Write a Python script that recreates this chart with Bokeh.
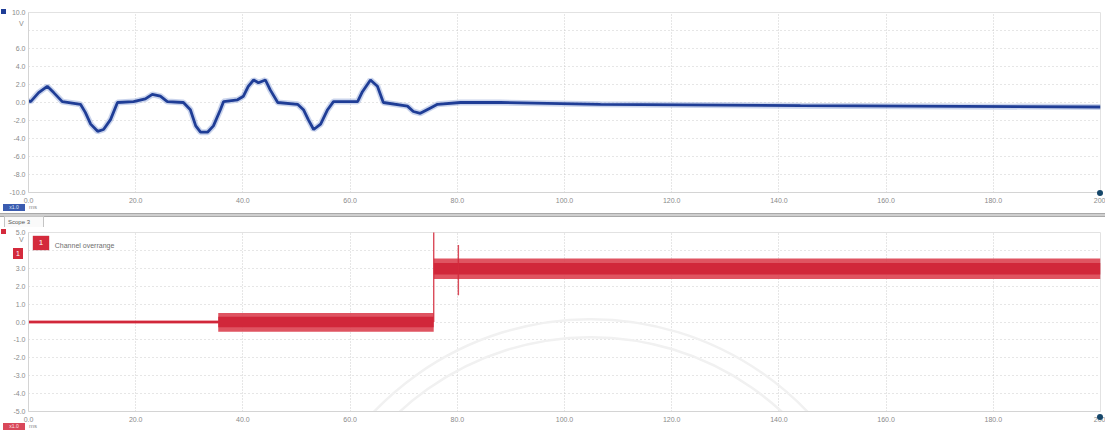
from bokeh.plotting import figure
from bokeh.layouts import column
from bokeh.models import Range1d, Label, Div, FixedTicker
from bokeh.embed import file_html
from bokeh.resources import INLINE

# ---------------- data ----------------
x_ticks = [0, 20, 40, 60, 80, 100, 120, 140, 160, 180, 200]
x_tick_labels = ["0.0", "20.0", "40.0", "60.0", "80.0", "100.0", "120.0", "140.0", "160.0", "180.0", "200"]

top_y_ticks = [-10, -8, -6, -4, -2, 0, 2, 4, 6, 8, 10]
top_y_labels = ["-10.0", "-8.0", "-6.0", "-4.0", "-2.0", "0.0", "2.0", "4.0", "6.0", "", "10.0"]

bot_y_ticks = [-5, -4, -3, -2, -1, 0, 1, 2, 3, 4, 5]
bot_y_labels = ["-5.0", "-4.0", "-3.0", "-2.0", "-1.0", "0.0", "1.0", "2.0", "3.0", "", "5.0"]

# Scope (blue) trace, time in ms, voltage in V
blue_t = [0, 0.4, 1.9, 3.5, 4.7, 6.3, 9.7, 10.6, 11.6, 12.9, 14.0, 15.3, 16.6, 19.6, 21.8,
          23.1, 24.6, 25.9, 28.9, 30.2, 31.2, 32.1, 33.4, 34.5, 35.8, 36.4, 39.0, 40.1, 41.0,
          42.0, 42.9, 44.2, 45.1, 46.5, 50.2, 51.3, 52.2, 53.2, 54.5, 55.8, 56.9, 61.4, 62.3,
          63.8, 65.1, 66.2, 70.7, 71.8, 73.1, 75.0, 76.3, 80.6, 88.0, 106.7, 144.0, 200.0]
blue_v = [0.2, 0.1, 1.1, 1.8, 1.1, 0.1, -0.2, -1.1, -2.4, -3.2, -3.0, -1.9, 0.0, 0.1, 0.4,
          0.9, 0.7, 0.1, 0.0, -0.8, -2.6, -3.3, -3.3, -2.6, -0.8, 0.1, 0.3, 0.7, 1.8,
          2.5, 2.2, 2.5, 1.4, 0.0, -0.2, -0.8, -1.9, -3.0, -2.4, -0.8, 0.1, 0.1, 1.2,
          2.5, 1.8, 0.0, -0.4, -1.0, -1.2, -0.6, -0.2, 0.0, 0.0, -0.2, -0.35, -0.5]

# Red channel as noise envelope (lower / upper) per segment
red_t = [0, 35.4, 35.4, 75.6, 75.6, 200]
red_lo = [-0.08, -0.08, -0.55, -0.55, 2.4, 2.4]
red_hi = [0.08, 0.08, 0.5, 0.5, 3.55, 3.55]
red_core_lo = [-0.05, -0.05, -0.3, -0.3, 2.65, 2.65]
red_core_hi = [0.05, 0.05, 0.3, 0.3, 3.3, 3.3]

# spikes: time, from, to
spike_t = [75.6, 80.2]
spike_from = [0.0, 4.3]
spike_to = [5.4, 1.5]

legend_text = "Channel overrange"

FONT = "Liberation Sans"
GRID = "#cdcdcd"
LBL = "#8a8a8a"
BLUE = "#1f3d96"
RED = "#d42a3c"
W = 1105


def style(p, yticks, ylabels):
    p.x_range = Range1d(0, 200)
    p.xaxis.ticker = FixedTicker(ticks=x_ticks)
    p.xaxis.major_label_overrides = dict(zip(x_ticks, x_tick_labels))
    p.yaxis.ticker = FixedTicker(ticks=yticks)
    p.yaxis.major_label_overrides = dict(zip(yticks, ylabels))
    for ax in (p.xaxis[0], p.yaxis[0]):
        ax.major_label_text_font = FONT
        ax.major_label_text_font_size = "7px"
        ax.major_label_text_color = LBL
        ax.major_tick_out = 0
        ax.major_tick_in = 0
        ax.minor_tick_out = 0
        ax.minor_tick_in = 0
        ax.axis_line_color = "#d4d4d4"
        ax.major_label_standoff = 3
    p.xaxis.major_label_standoff = 5
    p.xgrid.grid_line_color = GRID
    p.xgrid.grid_line_dash = "1 2"
    p.ygrid.grid_line_color = GRID
    p.ygrid.grid_line_dash = "1 3"
    p.outline_line_color = "#e2e2e2"
    p.background_fill_color = "white"
    p.border_fill_color = "white"


# ---------------- top panel ----------------
top = figure(width=W, height=213, output_backend="svg", toolbar_location=None,
             min_border_left=28, min_border_right=5, min_border_top=12, min_border_bottom=21,
             y_range=Range1d(-10, 10))
style(top, top_y_ticks, top_y_labels)
top.line(blue_t, blue_v, line_color="#9fb1dd", line_width=6, line_alpha=0.55)
top.line(blue_t, blue_v, line_color=BLUE, line_width=2.8)

# ---------------- separator ----------------
sep = Div(width=W, height=4, margin=(0, 0, 0, 0),
          styles={"background": "#cfcfcf",
                  "border-top": "1px solid #a9a9a9",
                  "border-bottom": "1px solid #a9a9a9",
                  "box-sizing": "border-box"})

# ---------------- bottom panel ----------------
bot = figure(width=W, height=213, output_backend="svg", toolbar_location=None,
             min_border_left=28, min_border_right=5, min_border_top=15, min_border_bottom=19,
             y_range=Range1d(-5, 5))
style(bot, bot_y_ticks, bot_y_labels)

# faint watermark arcs
bot.arc(x=[104.9, 104.9], y=[-16.6, -16.6], radius=[300, 282], radius_units="screen",
        start_angle=0.35, end_angle=2.8, line_color="#f1f1f1", line_width=2.5)

bot.varea(x=red_t, y1=red_lo, y2=red_hi, fill_color="#dc4150", fill_alpha=0.9)
bot.varea(x=red_t, y1=red_core_lo, y2=red_core_hi, fill_color="#cf2236", fill_alpha=0.9)
bot.segment(x0=spike_t, y0=spike_from, x1=spike_t, y1=spike_to, line_color=RED,
            line_width=1.4, line_alpha=0.85)

bot.add_layout(Label(x=4.9, y=4.3, text=legend_text, text_font=FONT,
                     text_font_size="7px", text_color="#6e6e6e", text_baseline="middle"))

# ---------------- overlay for the decorations in the panel margins ----------------
BASE = 430  # page y of the overlay div


def box(x, y, w, h, css, text=""):
    return ('<div style="position:absolute;left:%dpx;top:%dpx;width:%dpx;height:%dpx;'
            'font-family:\'Liberation Sans\';line-height:%dpx;white-space:nowrap;%s">%s</div>'
            % (x, y - BASE, w, h, h, css, text))


parts = [
    box(1, 9, 5, 5, "background:%s;" % BLUE),
    box(19, 20, 8, 8, "font-size:7px;color:%s;" % LBL, "V"),
    box(3, 204, 22, 7, "background:#3b5cb0;color:#dfe6f6;font-size:5px;text-align:center;", "x1.0"),
    box(29, 204, 14, 7, "font-size:6px;color:%s;" % LBL, "ms"),
    box(1097, 190, 6, 6, "background:#16476a;border-radius:50%;"),
    box(4, 216, 40, 11, "border:1px solid #c4c4c4;border-bottom:none;background:#fafafa;"
        "font-size:6px;color:#555;padding-left:3px;box-sizing:border-box;", "Scope 3"),
    box(1, 229, 5, 5, "background:%s;" % RED),
    box(19, 236, 8, 8, "font-size:7px;color:%s;" % LBL, "V"),
    box(13, 248, 10, 11, "background:%s;color:white;font-size:7px;text-align:center;" % RED, "1"),
    box(33, 236, 16, 14, "background:%s;color:white;font-size:8px;text-align:center;"
        "box-shadow:0 0 1px #a01626;" % RED, "1"),
    box(3, 423, 22, 7, "background:#d9485a;color:#fbe3e6;font-size:5px;text-align:center;", "x1.0"),
    box(29, 423, 14, 7, "font-size:6px;color:%s;" % LBL, "ms"),
    box(1097, 414, 6, 6, "background:#16476a;border-radius:50%;"),
]
overlay = Div(text="".join(parts), width=W, height=1, margin=(0, 0, 0, 0),
              styles={"position": "relative", "overflow": "visible", "z-index": "10"})

layout = column(top, sep, bot, overlay, spacing=0)
open("out.html", "w").write(file_html(layout, INLINE))
